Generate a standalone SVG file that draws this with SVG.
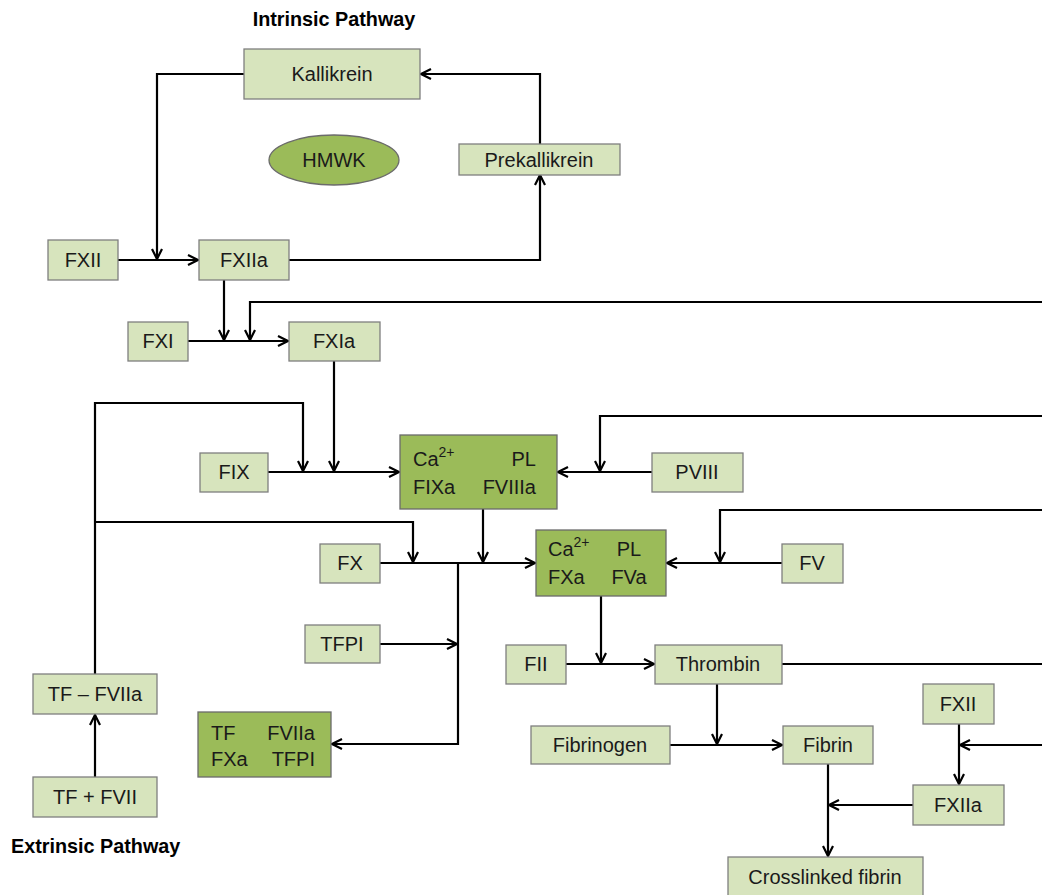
<svg xmlns="http://www.w3.org/2000/svg" width="1042" height="895" viewBox="0 0 1042 895">
<style>
.n{fill:#d7e4bd;stroke:#7f7f7f;stroke-width:1.3}
.d{fill:#9bbb59;stroke:#6b6b6b;stroke-width:1.3}
text{font-family:"Liberation Sans",Arial,sans-serif;font-size:20px;fill:#1a1a1a}
.c{text-anchor:middle}
.e{text-anchor:end}
.t{font-weight:bold;font-size:19.8px;fill:#000}
.s{font-size:14px}
.w path{fill:none;stroke:#000;stroke-width:2.2}
</style>
<defs>
<marker id="a" viewBox="0 0 12 12" refX="11" refY="6" markerWidth="12" markerHeight="12" markerUnits="userSpaceOnUse" orient="auto">
<path d="M1,1 L11,6 L1,11" fill="none" stroke="#000" stroke-width="2.2"/>
</marker>
</defs>
<rect width="1042" height="895" fill="#fff"/>
<text class="t c" x="334" y="26">Intrinsic Pathway</text>
<text class="t" x="11" y="853">Extrinsic Pathway</text>

<g class="w" id="connectors">
<path d="M244,74 H157 V259" marker-end="url(#a)"/>
<path d="M118,260 H198" marker-end="url(#a)"/>
<path d="M289,260 H540 V175" marker-end="url(#a)"/>
<path d="M540,144 V74 H421" marker-end="url(#a)"/>
<path d="M224,280 V340" marker-end="url(#a)"/>
<path d="M188,341 H288" marker-end="url(#a)"/>
<path d="M1042,302 H250 V340" marker-end="url(#a)"/>
<path d="M334,361 V471" marker-end="url(#a)"/>
<path d="M268,472 H399" marker-end="url(#a)"/>
<path d="M95,674 V403 H303 V471" marker-end="url(#a)"/>
<path d="M95,522 H413 V562" marker-end="url(#a)"/>
<path d="M1042,416 H600 V471" marker-end="url(#a)"/>
<path d="M652,472 H558" marker-end="url(#a)"/>
<path d="M483,509 V562" marker-end="url(#a)"/>
<path d="M380,563 H535" marker-end="url(#a)"/>
<path d="M458,563 V744 H332" marker-end="url(#a)"/>
<path d="M380,644 H457" marker-end="url(#a)"/>
<path d="M1042,510 H720 V562" marker-end="url(#a)"/>
<path d="M782,563 H667" marker-end="url(#a)"/>
<path d="M601,596 V663" marker-end="url(#a)"/>
<path d="M566,664 H654" marker-end="url(#a)"/>
<path d="M782,664 H1042"/>
<path d="M717,684 V744" marker-end="url(#a)"/>
<path d="M670,745 H782" marker-end="url(#a)"/>
<path d="M828,764 V856" marker-end="url(#a)"/>
<path d="M913,805 H829" marker-end="url(#a)"/>
<path d="M959,724 V784" marker-end="url(#a)"/>
<path d="M1042,745 H960" marker-end="url(#a)"/>
<path d="M95,777 V715" marker-end="url(#a)"/>
</g>

<g id="kallikrein"><rect class="n" x="244" y="49" width="176" height="50"/><text class="c" x="332" y="81">Kallikrein</text></g>
<g id="hmwk"><ellipse class="d" cx="334" cy="160" rx="65" ry="25"/><text class="c" x="334" y="167">HMWK</text></g>
<g id="prekallikrein"><rect class="n" x="459" y="144" width="161" height="31"/><text class="c" x="539" y="167">Prekallikrein</text></g>
<g id="fxii"><rect class="n" x="48" y="240" width="70" height="40"/><text class="c" x="83" y="267">FXII</text></g>
<g id="fxiia"><rect class="n" x="199" y="240" width="90" height="40"/><text class="c" x="244" y="267">FXIIa</text></g>
<g id="fxi"><rect class="n" x="128" y="322" width="60" height="39"/><text class="c" x="158" y="348">FXI</text></g>
<g id="fxia"><rect class="n" x="289" y="322" width="91" height="39"/><text class="c" x="334" y="348">FXIa</text></g>
<g id="fix"><rect class="n" x="200" y="453" width="68" height="39"/><text class="c" x="234" y="479">FIX</text></g>
<g id="tenase"><rect class="d" x="400" y="435" width="157" height="74"/>
<text x="413" y="466">Ca<tspan class="s" dy="-9">2+</tspan></text>
<text class="e" x="536" y="466">PL</text>
<text x="413" y="494">FIXa</text>
<text class="e" x="536" y="494">FVIIIa</text></g>
<g id="pviii"><rect class="n" x="652" y="453" width="91" height="39"/><text class="c" x="697" y="479">PVIII</text></g>
<g id="fx"><rect class="n" x="320" y="544" width="60" height="39"/><text class="c" x="350" y="570">FX</text></g>
<g id="prothrombinase"><rect class="d" x="536" y="530" width="130" height="66"/>
<text x="548" y="556">Ca<tspan class="s" dy="-9">2+</tspan></text>
<text class="c" x="629" y="556">PL</text>
<text x="548" y="584">FXa</text>
<text class="c" x="629" y="584">FVa</text></g>
<g id="fv"><rect class="n" x="782" y="544" width="61" height="39"/><text class="c" x="812" y="570">FV</text></g>
<g id="tfpi"><rect class="n" x="305" y="625" width="75" height="38"/><text class="c" x="342" y="651">TFPI</text></g>
<g id="fii"><rect class="n" x="506" y="645" width="60" height="39"/><text class="c" x="536" y="671">FII</text></g>
<g id="thrombin"><rect class="n" x="655" y="645" width="127" height="39"/><text class="c" x="718" y="671">Thrombin</text></g>
<g id="tf-fviia"><rect class="n" x="33" y="674" width="124" height="40"/><text class="c" x="95" y="701">TF – FVIIa</text></g>
<g id="tf-complex"><rect class="d" x="198" y="712" width="133" height="65"/>
<text x="211" y="740">TF</text>
<text class="e" x="315" y="740">FVIIa</text>
<text x="211" y="766">FXa</text>
<text class="e" x="315" y="766">TFPI</text></g>
<g id="fibrinogen"><rect class="n" x="531" y="726" width="139" height="38"/><text class="c" x="600" y="752">Fibrinogen</text></g>
<g id="fibrin"><rect class="n" x="783" y="726" width="90" height="38"/><text class="c" x="828" y="752">Fibrin</text></g>
<g id="fxii-2"><rect class="n" x="923" y="684" width="71" height="40"/><text class="c" x="958" y="711">FXII</text></g>
<g id="fxiia-2"><rect class="n" x="913" y="785" width="91" height="40"/><text class="c" x="958" y="812">FXIIa</text></g>
<g id="tf-fvii"><rect class="n" x="33" y="777" width="124" height="40"/><text class="c" x="95" y="804">TF + FVII</text></g>
<g id="crosslinked"><rect class="n" x="728" y="857" width="195" height="40"/><text class="c" x="825" y="884">Crosslinked fibrin</text></g>
</svg>
